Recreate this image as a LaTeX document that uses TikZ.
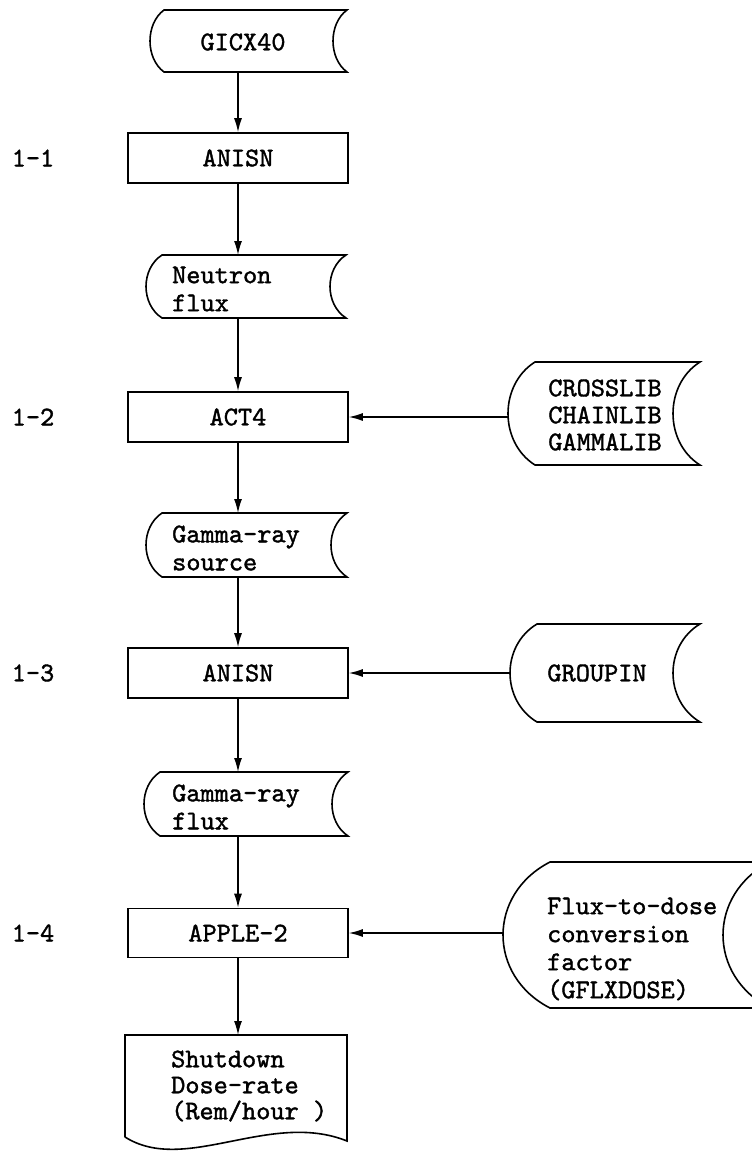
\documentclass[tikz,border=0pt]{standalone}
\usepackage{fontspec}
\newfontfamily\twfont[FakeBold=1.4]{lmmono10-regular.otf}
\usetikzlibrary{arrows.meta}
\newcommand\storedshape[6]{%
  \node[holder, minimum width={#4-#2}, minimum height={#5-#3}] (#1) at ({(#2+#4)/2},{(#3+#5)/2}) {};
  \draw[shp] ({#2+#6},#3) -- (#4,#3)
    .. controls ({#4-1.333*#6},{#3+0.22*(#5-#3)}) and ({#4-1.333*#6},{#5-0.22*(#5-#3)}) .. (#4,#5)
    -- ({#2+#6},#5)
    .. controls ({#2-0.333*#6},{#5-0.22*(#5-#3)}) and ({#2-0.333*#6},{#3+0.22*(#5-#3)}) .. cycle;
}
\tikzset{
  every node/.style={font=\twfont\fontsize{27}{28}\selectfont},
  procbox/.style={draw, line width=1.6pt, minimum width=220pt, minimum height=50pt, inner sep=0pt},
  shp/.style={line width=1.6pt, line join=miter},
  holder/.style={inner sep=0pt, outer sep=0pt, draw=none},
  txt/.style={inner sep=0pt, align=left},
  arr/.style={line width=1.4pt, -{Latex[length=14pt,width=8pt]}},
}
\begin{document}
\begin{tikzpicture}[x=1pt,y=-1pt]
\useasboundingbox[fill=white] (0,0) rectangle (752,1151);
\clip (0,0) rectangle (752,1151);

% main column stored data
\storedshape{gicx}{150}{10}{347}{72}{14}
\node[txt] (gicx-t) at (243,42) {GICX40};
\storedshape{nflux}{146}{255}{346}{318}{16}
\node[txt, anchor=west] (nflux-t) at (172,289) {Neutron\\flux};
\storedshape{gsrc}{146}{513}{347}{577}{16}
\node[txt, anchor=west] (gsrc-t) at (172,548) {Gamma-ray\\source};
\storedshape{gflux}{144}{772}{348}{836}{16}
\node[txt, anchor=west] (gflux-t) at (172,807) {Gamma-ray\\flux};

% processes
\node[procbox] (anisn1) at (238,158) {ANISN};
\node[procbox] (act4) at (238,417) {ACT4};
\node[procbox] (anisn2) at (238,673) {ANISN};
\node[procbox, minimum height=49pt] (apple) at (238,933) {APPLE-2};

% step labels
\node (l1) at (33,158) {1-1};
\node (l2) at (33,417) {1-2};
\node (l3) at (33,673) {1-3};
\node (l4) at (33,933) {1-4};

% side stored data
\storedshape{crosslib}{508}{362}{700}{465}{27}
\node[txt, align=center] (crosslib-t) at (605,415) {CROSSLIB\\[-1pt]CHAINLIB\\[-1pt]GAMMALIB};
\storedshape{groupin}{510}{624}{700}{722}{27}
\node[txt] (groupin-t) at (597,673) {GROUPIN};
\storedshape{fdose}{503}{862}{770}{1008}{47}
\node[txt, anchor=west] (fdose-t) at (547,949) {Flux-to-dose\\conversion\\factor\\(GFLXDOSE)};

% output document
\node[holder, minimum width=222pt, minimum height=112pt] (dose) at (236,1091) {};
\draw[shp] (125,1137) -- (125,1035) -- (347,1035) -- (347,1141)
  .. controls (270,1110) and (185,1175) .. (125,1137);
\node[txt, anchor=west, font=\twfont\fontsize{27}{26}\selectfont] (dose-t) at (171,1086) {Shutdown\\Dose-rate\\(Rem/hour )};

% connectors
\draw[arr] (gicx.south -| anisn1.north) -- (anisn1.north);
\draw[arr] (anisn1.south) -- (anisn1.south |- nflux.north);
\draw[arr] (nflux.south -| act4.north) -- (act4.north);
\draw[arr] (act4.south) -- (act4.south |- gsrc.north);
\draw[arr] (gsrc.south -| anisn2.north) -- (anisn2.north);
\draw[arr] (anisn2.south) -- (anisn2.south |- gflux.north);
\draw[arr] (gflux.south -| apple.north) -- (apple.north);
\draw[arr] (apple.south) -- (apple.south |- dose.north);
\draw[arr] (crosslib.west |- act4.east) -- (act4.east);
\draw[arr] (groupin.west |- anisn2.east) -- (anisn2.east);
\draw[arr] (fdose.west |- apple.east) -- (apple.east);
\end{tikzpicture}
\end{document}
